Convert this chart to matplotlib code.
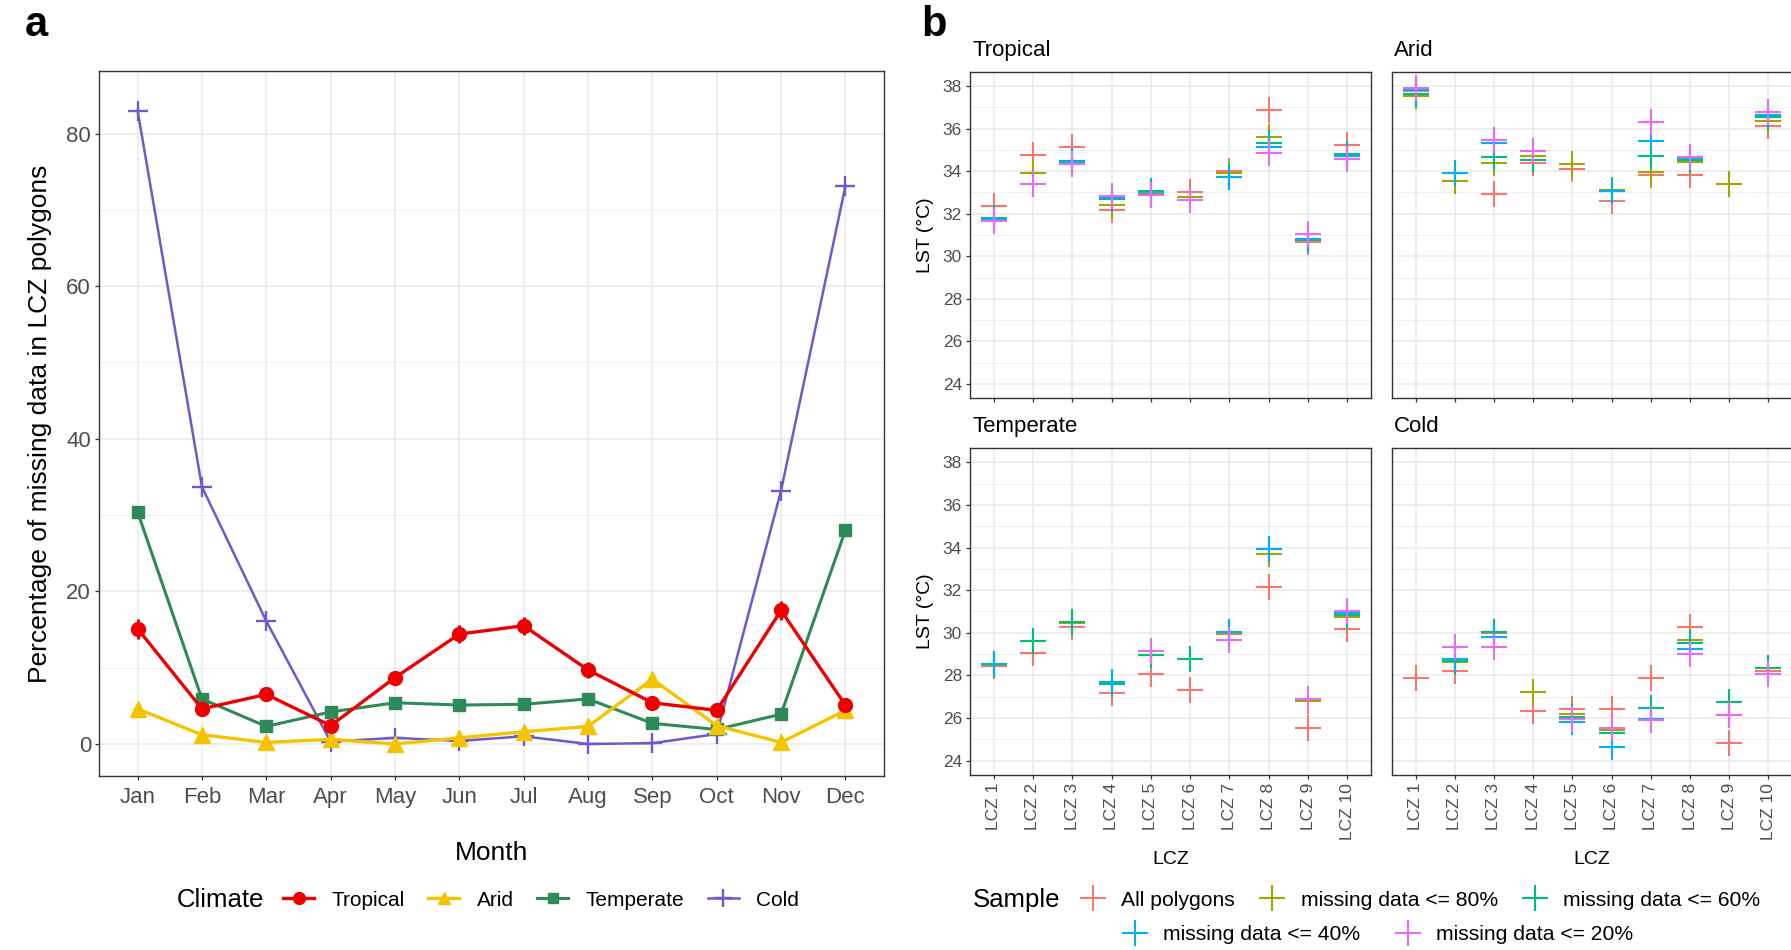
import numpy as np
import matplotlib
matplotlib.use("Agg")
import matplotlib.pyplot as plt
from matplotlib.lines import Line2D
from matplotlib.ticker import FixedLocator

plt.rcParams['font.family'] = ['Liberation Sans', 'DejaVu Sans']

# ---------------- panel a data: % of missing data per month ----------------
months = ["Jan", "Feb", "Mar", "Apr", "May", "Jun",
          "Jul", "Aug", "Sep", "Oct", "Nov", "Dec"]
climates = ["Tropical", "Arid", "Temperate", "Cold"]
tropical_pct = [15.1, 4.6, 6.5, 2.4, 8.7, 14.4, 15.5, 9.7, 5.4, 4.4, 17.5, 5.1]
arid_pct = [4.6, 1.2, 0.2, 0.6, 0.0, 0.8, 1.6, 2.3, 8.5, 2.4, 0.2, 4.4]
temperate_pct = [30.4, 5.9, 2.3, 4.2, 5.4, 5.1, 5.2, 5.9, 2.7, 1.9, 3.9, 28.0]
cold_pct = [83.0, 33.7, 16.1, 0.3, 0.8, 0.4, 1.0, 0.0, 0.1, 1.3, 33.2, 73.1]
tropical_err = [1.3, 0.8, 0.8, 0.9, 0.9, 1.2, 1.2, 1.0, 0.8, 0.7, 1.3, 0.7]

climate_colors = ["#EE0000", "#F5C400", "#2E8B57", "#6A5ACD"]

# ---------------- panel b data: mean LST per LCZ and sample ----------------
lcz_labels = [f"LCZ {i}" for i in range(1, 11)]
samples = ["All polygons", "missing data <= 80%", "missing data <= 60%",
           "missing data <= 40%", "missing data <= 20%"]
sample_colors = ["#F8766D", "#A3A500", "#00BF7D", "#00B0F6", "#E76BF3"]

nan = np.nan
lst_tropical = [
    [32.38, 34.77, 35.12, 32.19, 32.93, 33.00, 34.00, 36.90, 30.69, 35.24],
    [31.80, 33.93, 34.50, 32.43, 33.00, 32.80, 33.90, 35.63, 30.80, 34.70],
    [31.80, nan, 34.50, 32.70, 33.05, nan, 33.71, 35.34, 30.75, 34.80],
    [31.74, nan, 34.42, 32.72, 32.95, nan, 33.71, 35.13, 30.80, 34.74],
    [31.66, 33.38, 34.36, 32.83, 32.88, 32.64, nan, 34.84, 31.05, 34.57],
]
lst_arid = [
    [37.78, 33.54, 32.91, 34.37, 34.09, 32.58, 33.80, 33.80, 33.41, 36.15],
    [37.55, 33.54, 34.40, 34.73, 34.32, 33.10, 33.96, 34.45, 33.41, 36.37],
    [37.65, nan, 34.65, 34.52, nan, 33.08, 34.70, 34.55, nan, 36.56],
    [37.80, 33.94, 35.35, nan, nan, 33.06, 35.42, 34.60, nan, 36.67],
    [37.94, nan, 35.46, 34.93, nan, nan, 36.34, 34.65, nan, 36.78],
]
lst_temperate = [
    [28.44, 29.03, 30.25, 27.16, 28.09, 27.31, 29.95, 32.17, 25.52, 30.16],
    [28.50, 29.61, 30.45, 27.58, 28.95, 28.78, 30.00, 33.70, 26.78, 30.72],
    [28.56, 29.61, 30.52, 27.58, 28.95, 28.78, 30.05, 33.94, nan, 30.84],
    [28.56, nan, nan, 27.69, nan, nan, 30.05, 33.94, nan, 30.95],
    [nan, nan, nan, nan, 29.14, nan, 29.66, nan, 26.88, 31.00],
]
lst_cold = [
    [27.86, 28.23, 30.00, 26.33, 26.41, 26.42, 27.86, 30.27, 24.83, 28.23],
    [nan, 28.61, 30.03, 27.23, 26.19, 25.42, 26.45, 29.64, 26.16, 28.33],
    [nan, 28.70, 30.03, nan, 26.05, 25.31, 26.45, 29.50, 26.75, 28.33],
    [nan, 28.77, 29.81, nan, 25.81, 24.63, 25.97, 29.25, nan, nan],
    [nan, 29.34, 29.33, nan, 25.94, 25.52, 25.91, 29.02, 26.16, 28.06],
]

# ---------------- figure ----------------
W, H = 1791, 950
fig = plt.figure(figsize=(W / 100, H / 100), dpi=100)
fig.patch.set_facecolor("white")

FRAME = "#333333"
GRID = "#EBEBEB"
TICKTXT = "#4D4D4D"


def add_ax(left, top, right, bottom):
    return fig.add_axes([left / W, 1 - bottom / H, (right - left) / W, (bottom - top) / H])


def style_ax(ax, labelsize, pad=2.5):
    for s in ax.spines.values():
        s.set_color(FRAME)
        s.set_linewidth(1.0)
    ax.tick_params(which="major", direction="out", length=3.2, width=0.9,
                   color=FRAME, labelcolor=TICKTXT, labelsize=labelsize, pad=pad)
    ax.tick_params(which="minor", length=0)
    ax.grid(which="major", color=GRID, lw=1.2, zorder=0)
    ax.grid(which="minor", color=GRID, lw=0.6, zorder=0)
    ax.set_axisbelow(True)


# ---------------- panel a ----------------
axa = add_ax(99, 71, 884, 776)
style_ax(axa, 16)
axa.tick_params(axis="x", pad=4.5)
x_month = np.arange(1, len(months) + 1)

series_a = [
    (tropical_pct, "o", 10, 1.0, 2.4, 5),
    (arid_pct, "^", 11, 1.0, 2.4, 4),
    (temperate_pct, "s", 9, 1.0, 2.2, 3),
    (cold_pct, "+", 15, 1.7, 1.8, 2),
]
handles_a = []
for name, color, (vals, mk, ms, mew, lw, z) in zip(climates, climate_colors, series_a):
    axa.plot(x_month, vals, color=color, lw=lw, marker=mk, ms=ms, mew=mew,
             mec=color, mfc=color, zorder=z, solid_joinstyle="round")
    handles_a.append(Line2D([], [], color=color, lw=lw, marker=mk,
                            ms=ms * 0.85, mew=mew, mec=color, mfc=color))
axa.errorbar(x_month, tropical_pct, yerr=tropical_err, fmt="none",
             ecolor=climate_colors[0], elinewidth=2.2, capsize=0, zorder=5)

axa.set_xlim(0.4, 12.6)
axa.set_ylim(-4.2, 88.2)
axa.set_xticks(x_month)
axa.set_xticklabels(months)
axa.set_yticks([0, 20, 40, 60, 80])
axa.yaxis.set_minor_locator(FixedLocator([10, 30, 50, 70]))
axa.set_xlabel("Month", fontsize=19, labelpad=24)
axa.set_ylabel("Percentage of missing data in LCZ polygons", fontsize=19, labelpad=10)

fig.text(25 / W, 1 - 25 / H, "a", fontsize=30, fontweight="bold", va="center", ha="left")

fig.text(177 / W, 1 - 900 / H, "Climate", fontsize=18.5, va="center", ha="left")
fig.legend(handles_a, climates, loc="center left", bbox_to_anchor=(283 / W, 1 - 900 / H),
           ncol=4, frameon=False, fontsize=15, handlelength=1.5, handletextpad=0.85,
           columnspacing=1.1, borderpad=0, borderaxespad=0)

# ---------------- panel b ----------------
facets = [
    ("Tropical", lst_tropical, (970, 72, 1371, 398)),
    ("Arid", lst_arid, (1392, 72, 1792, 398)),
    ("Temperate", lst_temperate, (970, 448, 1371, 775)),
    ("Cold", lst_cold, (1392, 448, 1792, 775)),
]
x_lcz = np.arange(1, len(lcz_labels) + 1)
for i, (title, rows, box) in enumerate(facets):
    ax = add_ax(*box)
    style_ax(ax, 12.5)
    for vals, col in zip(rows, sample_colors):
        ax.plot(x_lcz, vals, ls="none", marker="+", ms=19, mew=1.5, color=col, zorder=3)
    ax.set_xlim(0.4, 10.6)
    ax.set_ylim(23.33, 38.67)
    ax.set_yticks(np.arange(24, 39, 2))
    ax.yaxis.set_minor_locator(FixedLocator(np.arange(25, 38, 2)))
    ax.set_xticks(x_lcz)
    col_left = i % 2 == 0
    bottom_row = i >= 2
    if bottom_row:
        ax.set_xticklabels(lcz_labels, rotation=90, va="top", ha="center")
        ax.set_xlabel("LCZ", fontsize=14, labelpad=8)
    else:
        ax.set_xticklabels([])
    if col_left:
        ax.set_ylabel("LST (°C)", fontsize=14, labelpad=6)
    else:
        ax.set_yticklabels([])
        ax.tick_params(axis="y", length=0)
    ax.text(0.005, 1.035, title, transform=ax.transAxes, fontsize=16,
            va="bottom", ha="left")

fig.text(921 / W, 1 - 25 / H, "b", fontsize=30, fontweight="bold", va="center", ha="left")

handles_b = [Line2D([], [], ls="none", marker="+", ms=19, mew=1.5, color=c)
             for c in sample_colors]
fig.text(973 / W, 1 - 900 / H, "Sample", fontsize=18.5, va="center", ha="left")
fig.legend(handles_b[:3], samples[:3], loc="center left",
           bbox_to_anchor=(1077 / W, 1 - 900 / H), ncol=3, frameon=False,
           fontsize=15.2, handlelength=1.5, handletextpad=0.6, columnspacing=1.0,
           borderpad=0, borderaxespad=0)
fig.legend(handles_b[3:], samples[3:], loc="center left",
           bbox_to_anchor=(1119 / W, 1 - 935 / H), ncol=2, frameon=False,
           fontsize=15.2, handlelength=1.5, handletextpad=0.6, columnspacing=1.5,
           borderpad=0, borderaxespad=0)

fig.savefig("out.png", dpi=100, facecolor="white")
